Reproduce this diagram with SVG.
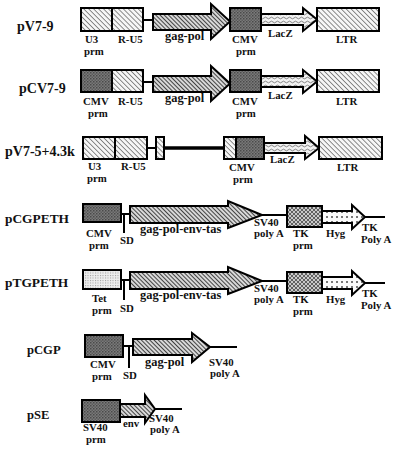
<svg xmlns="http://www.w3.org/2000/svg" width="400" height="449" viewBox="0 0 400 449">
<style>
text{font-family:"Liberation Serif","Times New Roman",serif;font-weight:bold;fill:#111}
.t{font-size:14px}
.l{font-size:10.8px}
.g{font-size:12.4px}
.b{stroke:#000;stroke-width:2}
.ln{stroke:#000;stroke-width:2;fill:none}
.lt{stroke:#000;stroke-width:3.5;fill:none}
.hl{fill:url(#hatchL)}
.hd{fill:url(#hatchD)}
.cmv{fill:url(#dark)}
.lacz{fill:url(#wave)}
.tk{fill:url(#mott)}
.hyg{fill:url(#xs)}
.tet{fill:url(#dots)}
</style>
<defs>
<pattern id="hatchL" width="3.5" height="3.5" patternUnits="userSpaceOnUse" patternTransform="rotate(-45)"><rect width="3.5" height="3.5" fill="#f6f6f6"/><line x1="0" y1="0" x2="0" y2="3.5" stroke="#333" stroke-width="1.1"/></pattern>
<pattern id="hatchD" width="3" height="3" patternUnits="userSpaceOnUse" patternTransform="rotate(-45)"><rect width="3" height="3" fill="#d8d8d8"/><line x1="0" y1="0" x2="0" y2="3" stroke="#111" stroke-width="1.5"/></pattern>
<pattern id="dark" width="3" height="3" patternUnits="userSpaceOnUse"><rect width="3" height="3" fill="#7a7a7a"/><rect width="1.5" height="1.5" fill="#4a4a4a"/><rect x="1.5" y="1.5" width="1.5" height="1.5" fill="#5c5c5c"/></pattern>
<pattern id="wave" width="6" height="4" patternUnits="userSpaceOnUse"><rect width="6" height="4" fill="#f2f2f2"/><path d="M0 2 Q1.5 0.3 3 2 T6 2" stroke="#777" stroke-width="0.9" fill="none"/></pattern>
<pattern id="mott" width="4" height="4" patternUnits="userSpaceOnUse"><rect width="4" height="4" fill="#c8c8c8"/><path d="M0 0L4 4M4 0L0 4" stroke="#555" stroke-width="0.9"/></pattern>
<pattern id="xs" width="5" height="5" patternUnits="userSpaceOnUse"><rect width="5" height="5" fill="#fafafa"/><path d="M1 1L3 3M3 1L1 3" stroke="#555" stroke-width="0.8"/></pattern>
<pattern id="dots" width="2.5" height="2.5" patternUnits="userSpaceOnUse"><rect width="2.5" height="2.5" fill="#ededed"/><rect width="1" height="1" fill="#999"/></pattern>
</defs>

<g id="connectors">
<line class="ln" x1="143" y1="20" x2="153" y2="20"/>
<line class="ln" x1="143" y1="82" x2="153" y2="82"/>
<line class="ln" x1="147" y1="148" x2="156" y2="148"/>
<line class="lt" x1="164" y1="148" x2="224" y2="148"/>
<line class="ln" x1="121" y1="214" x2="130" y2="214"/>
<line class="ln" x1="124" y1="214" x2="124" y2="233"/>
<line class="ln" x1="262" y1="215" x2="287" y2="215"/>
<line class="ln" x1="365" y1="217" x2="385" y2="217"/>
<line class="ln" x1="121" y1="280" x2="130" y2="280"/>
<line class="ln" x1="124" y1="280" x2="124" y2="300"/>
<line class="ln" x1="262" y1="281" x2="287" y2="281"/>
<line class="ln" x1="365" y1="283" x2="385" y2="283"/>
<line class="ln" x1="123" y1="346" x2="133" y2="346"/>
<line class="ln" x1="129" y1="346" x2="129" y2="368"/>
<line class="ln" x1="210" y1="347" x2="237" y2="347"/>
<line class="ln" x1="155" y1="409" x2="182" y2="409"/>
</g>

<g id="pV7-9">
<text class="t" x="17" y="31">pV7-9</text>
<rect class="b hl" x="81" y="8" width="31" height="23"/>
<rect class="b hl" x="112" y="8" width="31" height="23"/>
<path class="b hd" d="M153 14H211V4L230 21.5L211 39V30H153Z"/>
<rect class="b cmv" x="230" y="8" width="31" height="23"/>
<path class="b lacz" d="M261 14H303V8L317 19.5L303 31V25H261Z"/>
<rect class="b hl" x="317" y="8" width="62" height="23"/>
<text class="l" x="85" y="43">U3</text>
<text class="l" x="84" y="55">prm</text>
<text class="l" x="118" y="43">R-U5</text>
<text class="g" x="165" y="40">gag-pol</text>
<text class="l" x="232" y="43">CMV</text>
<text class="l" x="236" y="55">prm</text>
<text class="l" x="268" y="37">LacZ</text>
<text class="l" x="336" y="43">LTR</text>
</g>

<g id="pCV7-9">
<text class="t" x="19" y="93">pCV7-9</text>
<rect class="b cmv" x="81" y="70" width="31" height="22"/>
<rect class="b hl" x="112" y="70" width="31" height="22"/>
<path class="b hd" d="M153 76H211V66L230 83.5L211 101V92H153Z"/>
<rect class="b cmv" x="230" y="70" width="31" height="22"/>
<path class="b lacz" d="M261 76H303V70L317 81.5L303 93V87H261Z"/>
<rect class="b hl" x="317" y="70" width="62" height="22"/>
<text class="l" x="83" y="105">CMV</text>
<text class="l" x="88" y="117">prm</text>
<text class="l" x="118" y="105">R-U5</text>
<text class="g" x="165" y="102">gag-pol</text>
<text class="l" x="232" y="105">CMV</text>
<text class="l" x="236" y="117">prm</text>
<text class="l" x="268" y="99">LacZ</text>
<text class="l" x="336" y="105">LTR</text>
</g>

<g id="pV7-5-4.3k">
<text class="t" x="5" y="156">pV7-5+4.3k</text>
<rect class="b hl" x="83" y="137" width="32" height="22"/>
<rect class="b hl" x="115" y="137" width="32" height="22"/>
<rect class="b hl" x="156" y="137" width="8" height="22"/>
<rect class="b cmv" x="224" y="137" width="40" height="22"/>
<rect class="hl" x="225" y="138" width="11" height="20"/>
<line class="b" x1="236" y1="137" x2="236" y2="159"/>
<path class="b lacz" d="M264 143H305V136L319 148L305 159V153H264Z"/>
<rect class="b hl" x="319" y="137" width="63" height="22"/>
<text class="l" x="88" y="170">U3</text>
<text class="l" x="87" y="182">prm</text>
<text class="l" x="121" y="170">R-U5</text>
<text class="l" x="229" y="171">CMV</text>
<text class="l" x="233" y="183">prm</text>
<text class="l" x="270" y="163">LacZ</text>
<text class="l" x="337" y="171">LTR</text>
</g>

<g id="pCGPETH">
<text class="t" x="5" y="223" style="font-size:13.4px">pCGPETH</text>
<rect class="b cmv" x="83" y="204" width="38" height="18"/>
<path class="b hd" d="M130 206H228V201L262 215L228 228V223H130Z"/>
<rect class="b tk" x="287" y="206" width="35" height="21"/>
<path class="b hyg" d="M322 211H352V205L365 217L352 229V223H322Z"/>
<text class="l" x="86" y="237">CMV</text>
<text class="l" x="89" y="249">prm</text>
<text class="l" x="120" y="244">SD</text>
<text class="g" x="140" y="233">gag-pol-env-tas</text>
<text class="l" x="254" y="226">SV40</text>
<text class="l" x="254" y="237">poly A</text>
<text class="l" x="293" y="237">TK</text>
<text class="l" x="293" y="249">prm</text>
<text class="l" x="326" y="237">Hyg</text>
<text class="l" x="362" y="231">TK</text>
<text class="l" x="361" y="243">Poly A</text>
</g>

<g id="pTGPETH">
<text class="t" x="5" y="287" style="font-size:13.4px">pTGPETH</text>
<rect class="b tet" x="83" y="270" width="38" height="19"/>
<path class="b hd" d="M130 272H228V267L262 281L228 294V289H130Z"/>
<rect class="b tk" x="287" y="272" width="35" height="21"/>
<path class="b hyg" d="M322 277H352V271L365 283L352 295V289H322Z"/>
<text class="l" x="92" y="302">Tet</text>
<text class="l" x="92" y="314">prm</text>
<text class="l" x="120" y="312">SD</text>
<text class="g" x="140" y="299">gag-pol-env-tas</text>
<text class="l" x="254" y="292">SV40</text>
<text class="l" x="254" y="303">poly A</text>
<text class="l" x="293" y="303">TK</text>
<text class="l" x="293" y="315">prm</text>
<text class="l" x="326" y="303">Hyg</text>
<text class="l" x="362" y="297">TK</text>
<text class="l" x="361" y="309">Poly A</text>
</g>

<g id="pCGP">
<text class="t" x="27" y="354" style="font-size:12.6px">pCGP</text>
<rect class="b cmv" x="85" y="335" width="38" height="22"/>
<path class="b hd" d="M133 339H192V333L210 347L192 362V355H133Z"/>
<text class="l" x="90" y="368">CMV</text>
<text class="l" x="92" y="380">prm</text>
<text class="l" x="123" y="379">SD</text>
<text class="g" x="145" y="366">gag-pol</text>
<text class="l" x="209" y="366">SV40</text>
<text class="l" x="210" y="377">poly A</text>
</g>

<g id="pSE">
<text class="t" x="27" y="419" style="font-size:12.6px">pSE</text>
<rect class="b cmv" x="82" y="400" width="38" height="22"/>
<path class="b hd" d="M120 404H145V395L155 409L145 423V417H120Z"/>
<text class="l" x="83" y="431">SV40</text>
<text class="l" x="86" y="443">prm</text>
<text class="l" x="123" y="427">env</text>
<text class="l" x="149" y="422">SV40</text>
<text class="l" x="150" y="433">poly A</text>
</g>
</svg>
